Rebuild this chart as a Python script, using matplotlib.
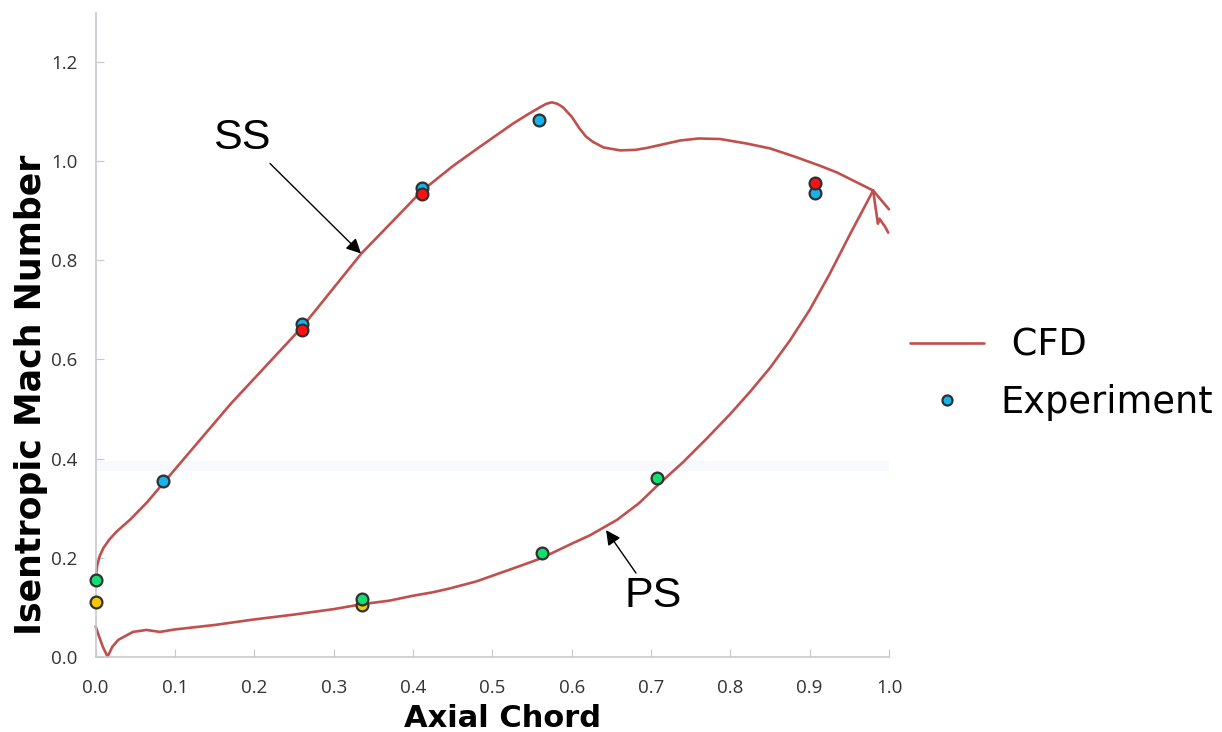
import matplotlib
matplotlib.use("Agg")
import matplotlib.pyplot as plt
import numpy as np

# CFD isentropic Mach number, suction side (leading edge -> trailing edge)
ss_x = [0.0, 0.002, 0.005, 0.0096, 0.017, 0.026, 0.043, 0.065, 0.085, 0.17, 0.26,
        0.335, 0.375, 0.411, 0.45, 0.484, 0.526, 0.545, 0.56, 0.568, 0.575, 0.582,
        0.589, 0.60, 0.61, 0.618, 0.627, 0.64, 0.661, 0.68, 0.695, 0.737, 0.76,
        0.787, 0.82, 0.85, 0.88, 0.913, 0.935, 0.955, 0.98, 1.0]
ss_y = [0.16, 0.185, 0.203, 0.219, 0.236, 0.252, 0.276, 0.312, 0.35, 0.51, 0.665,
        0.814, 0.88, 0.94, 0.99, 1.029, 1.076, 1.095, 1.109, 1.116, 1.119, 1.116,
        1.109, 1.09, 1.066, 1.05, 1.039, 1.028, 1.022, 1.023, 1.027, 1.042, 1.046,
        1.045, 1.036, 1.026, 1.01, 0.991, 0.977, 0.961, 0.941, 0.903]

# CFD pressure side (leading edge -> trailing edge spike)
ps_x = [0.0, 0.004, 0.009, 0.015, 0.021, 0.0285, 0.047, 0.064, 0.081, 0.1, 0.15,
        0.199, 0.25, 0.30, 0.336, 0.37, 0.40, 0.425, 0.447, 0.48, 0.51, 0.54, 0.562,
        0.60, 0.623, 0.657, 0.685, 0.711, 0.74, 0.77, 0.80, 0.825, 0.85, 0.875,
        0.90, 0.925, 0.95, 0.98]
ps_y = [0.061, 0.042, 0.02, 0.0, 0.02, 0.034, 0.05, 0.054, 0.05, 0.055, 0.064,
        0.075, 0.085, 0.096, 0.106, 0.113, 0.123, 0.13, 0.138, 0.152, 0.169, 0.186,
        0.199, 0.228, 0.245, 0.276, 0.31, 0.35, 0.392, 0.44, 0.49, 0.535, 0.583,
        0.638, 0.70, 0.772, 0.85, 0.941]

# small kink behind the trailing edge
te_x = [0.98, 0.986, 0.988, 0.995, 0.999]
te_y = [0.941, 0.874, 0.884, 0.868, 0.856]

# experimental points, grouped by marker colour
exp_blue_x = [0.085, 0.26, 0.411, 0.559, 0.907]
exp_blue_y = [0.355, 0.671, 0.947, 1.084, 0.935]
exp_red_x = [0.26, 0.411, 0.907]
exp_red_y = [0.659, 0.933, 0.957]
exp_green_x = [0.0, 0.336, 0.562, 0.708]
exp_green_y = [0.155, 0.116, 0.2085, 0.36]
exp_yellow_x = [0.0, 0.336]
exp_yellow_y = [0.111, 0.104]

x_ticks = np.arange(0, 1.01, 0.1)
y_ticks = np.arange(0, 1.21, 0.2)

CFD_COLOR = "#c0504d"
EDGE = "#303030"

fig = plt.figure(figsize=(12.22, 7.32), dpi=100)
ax = fig.add_axes([0.0783, 0.1029, 0.6492, 0.8798])

ax.axhspan(0.374, 0.396, color="#f8f9fc", zorder=0, lw=0)

line_kw = dict(color=CFD_COLOR, lw=1.9, clip_on=False, zorder=2,
               solid_joinstyle="round", solid_capstyle="round")
ax.plot(ss_x, ss_y, label=" CFD", **line_kw)
ax.plot(ps_x, ps_y, **line_kw)
ax.plot(te_x, te_y, **line_kw)

marker_kw = dict(linestyle="none", marker="o", markersize=8.5,
                 markeredgecolor=EDGE, markeredgewidth=1.6, clip_on=False, zorder=3)
ax.plot(exp_yellow_x, exp_yellow_y, markerfacecolor="#f5c800", **marker_kw)
ax.plot(exp_blue_x, exp_blue_y, markerfacecolor="#16b4ec", label="Experiment", **marker_kw)
ax.plot(exp_red_x, exp_red_y, markerfacecolor="#ff1010", **marker_kw)
ax.plot(exp_green_x, exp_green_y, markerfacecolor="#10e070", **marker_kw)

# side labels with arrows
ax.text(0.1845, 1.046, "SS", fontsize=31, family="Liberation Sans",
        ha="center", va="center")
ax.annotate("", xy=(0.3344, 0.8139), xytext=(0.2198, 0.9954),
            arrowprops=dict(arrowstyle="-|>", color="black", lw=1.0,
                            mutation_scale=22, shrinkA=0, shrinkB=0))
ax.text(0.7025, 0.1224, "PS", fontsize=31, family="Liberation Sans",
        ha="center", va="center")
ax.annotate("", xy=(0.6433, 0.2555), xytext=(0.6811, 0.1688),
            arrowprops=dict(arrowstyle="-|>", color="black", lw=1.0,
                            mutation_scale=22, shrinkA=0, shrinkB=0))

ax.set_xlim(0, 1.0)
ax.set_ylim(0, 1.3)
ax.set_xticks(x_ticks)
ax.set_xticklabels([f"{v:.1f}" for v in x_ticks])
ax.set_yticks(y_ticks)
ax.set_yticklabels([f"{v:.1f}" for v in y_ticks])
ax.tick_params(axis="x", direction="in", length=6, color="#c8c8d0", pad=16,
               labelsize=13.5, labelcolor="#333333")
ax.tick_params(axis="y", direction="in", length=6, color="#c8c8d0", pad=13,
               labelsize=13.5, labelcolor="#333333")
for lab in ax.get_xticklabels() + ax.get_yticklabels():
    lab.set_family("Open Sans")

for side in ["top", "right"]:
    ax.spines[side].set_visible(False)
for side in ["left", "bottom"]:
    ax.spines[side].set_color("#c8c8d0")
    ax.spines[side].set_linewidth(1.2)

fig.text(0.4112, 1 - 727 / 732, "Axial Chord", fontsize=22, fontweight="bold",
         ha="center", va="baseline")
fig.text(31 / 1222, 1 - 395 / 732, "Isentropic Mach Number", fontsize=25,
         fontweight="bold", rotation=90, ha="center", va="center")

ax.legend(loc="upper left", bbox_to_anchor=(910 / 1222, 1 - 327 / 732),
          bbox_transform=fig.transFigure, frameon=False, fontsize=26.5,
          borderpad=0, borderaxespad=0, handlelength=2.0, handletextpad=0.45,
          labelspacing=0.53, markerscale=0.85)

fig.savefig("out.png", dpi=100)
